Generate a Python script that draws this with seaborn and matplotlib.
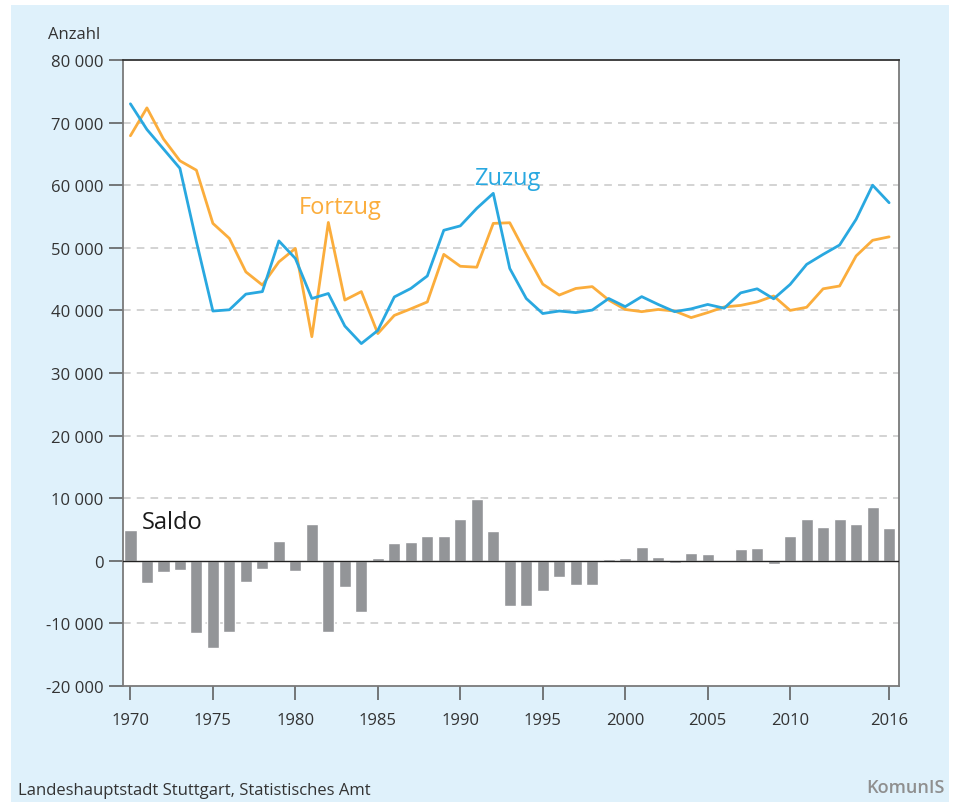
import numpy as np
import pandas as pd
import matplotlib
matplotlib.use("Agg")
from matplotlib import pyplot as plt
from matplotlib.patches import Rectangle
import matplotlib.ticker as mticker
import seaborn as sns

years = list(range(1970, 2017))

zuzug = [73000, 68900, 65800, 62700, 51000, 39900, 40100, 42600, 43000, 51100,
         48300, 41900, 42700, 37500, 34700, 36800, 42150, 43500, 45500, 52800,
         53500, 56300, 58700, 46700, 41900, 39500, 39900, 39650, 40050, 41900,
         40600, 42200, 40950, 39800, 40250, 40950, 40350, 42800, 43450, 41850,
         44150, 47350, 48950, 50450, 54550, 60000, 57200]

fortzug = [67900, 72350, 67400, 63900, 62400, 53900, 51500, 46150, 44050, 47750,
           49900, 35800, 54050, 41650, 43000, 36300, 39200, 40250, 41350, 48950,
           47050, 46900, 53900, 54000, 49000, 44200, 42450, 43500, 43800, 41650,
           40150, 39800, 40150, 39900, 38850, 39650, 40550, 40800, 41350, 42300,
           40000, 40500, 43450, 43900, 48700, 51200, 51750]

saldo = [5000, -3600, -1850, -1400, -11600, -14000, -11450, -3450, -1250, 3200,
         -1550, 5900, -11300, -4250, -8250, 450, 2900, 3050, 4000, 4000,
         6750, 9800, 4800, -7300, -7150, -4750, -2650, -3800, -3800, 250,
         400, 2250, 650, -300, 1300, 1150, 0, 1950, 2100, -500,
         4000, 6600, 5450, 6600, 5950, 8650, 5300]

xticks = [1970, 1975, 1980, 1985, 1990, 1995, 2000, 2005, 2010, 2016]
yticks = list(range(-20000, 80001, 10000))

blue = "#29a8e0"
orange = "#fbad3c"
grey = "#939598"
bg = "#dff1fb"

sns.set_style("white")
plt.rcParams['font.family'] = ['Open Sans', 'DejaVu Sans']

df = pd.DataFrame({"Jahr": years, "Zuzug": zuzug, "Fortzug": fortzug, "Saldo": saldo})

fig = plt.figure(figsize=(9.54, 8.03), dpi=100)
fig.patch.set_facecolor("white")
W, H = 954, 803
fig.add_artist(Rectangle((11 / W, 0), (949 - 11) / W, (803 - 6) / H,
                         transform=fig.transFigure, facecolor=bg, edgecolor="none", zorder=0))

ax = fig.add_axes([123 / W, 1 - 687 / H, (899 - 123) / W, (687 - 61) / H])
ax.set_facecolor("white")

# grid lines
for v in yticks:
    if v in (0, 80000, -20000):
        continue
    ax.axhline(v, color="#c8c8c8", lw=1.1, ls=(0, (5, 4)), zorder=1)

sns.barplot(data=df, x="Jahr", y="Saldo", native_scale=True, width=0.74,
            color=grey, saturation=1, ax=ax, zorder=2)
ax.axhline(0, color="#222222", lw=1.0, zorder=3)

sns.lineplot(data=df, x="Jahr", y="Fortzug", color=orange, lw=2.0, ax=ax, zorder=4)
sns.lineplot(data=df, x="Jahr", y="Zuzug", color=blue, lw=2.0, ax=ax, zorder=5)

ax.set_xlim(1969.55, 2016.6)
ax.set_ylim(-20000, 80000)
ax.set_xticks(xticks)
ax.set_yticks(yticks)
ax.yaxis.set_major_formatter(mticker.FuncFormatter(
    lambda v, p: f"{int(v):,}".replace(",", " ")))
ax.set_xlabel("")
ax.set_ylabel("")

for s in ["left", "right", "bottom"]:
    ax.spines[s].set_color("#7a7a7a")
    ax.spines[s].set_linewidth(1.3)
ax.spines["top"].set_color("#333333")
ax.spines["top"].set_linewidth(1.3)

ax.tick_params(axis="y", direction="out", length=10, width=1.1, color="#555555",
               labelsize=12, labelcolor="#333333", pad=4, left=True)
ax.tick_params(axis="x", direction="out", length=10, width=1.1, color="#555555",
               labelsize=12, labelcolor="#333333", pad=9, bottom=True)

fig.text(48 / W, 1 - 35 / H, "Anzahl", fontsize=12, color="#333333", va="center", ha="left")
ax.text(1980.2, 56500, "Fortzug", fontsize=17, color=orange, ha="left", va="center")
ax.text(1990.85, 61200, "Zuzug", fontsize=17, color=blue, ha="left", va="center")
ax.text(1970.7, 6200, "Saldo", fontsize=17, color="#1a1a1a", ha="left", va="center")

fig.text(18 / W, 1 - 791 / H, "Landeshauptstadt Stuttgart, Statistisches Amt",
         fontsize=12, color="#333333", ha="left", va="center")
fig.text(945 / W, 1 - 788 / H, "KomunIS", fontsize=13, color="#8f8f8f",
         fontweight="semibold", ha="right", va="center")

fig.savefig("out.png", dpi=100, facecolor=fig.get_facecolor())
